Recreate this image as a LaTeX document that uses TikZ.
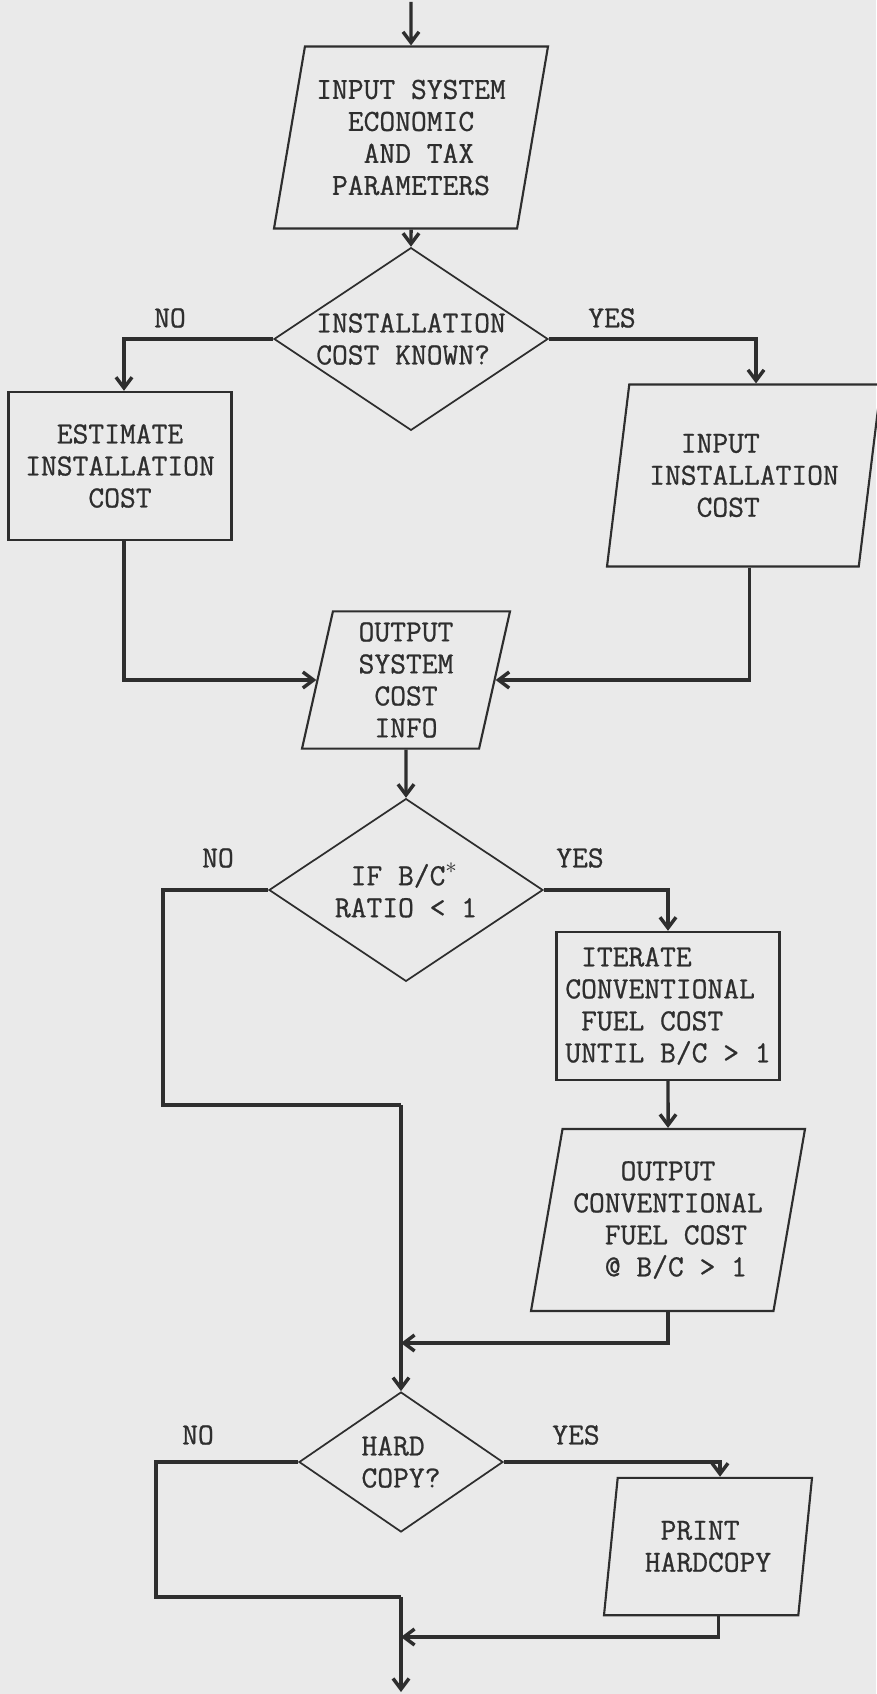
\documentclass[tikz,border=0pt]{standalone}
\usepackage{fontspec}
\setmonofont{Latin Modern Mono}[FakeBold=0.8]
\usepackage{tikz}
\usetikzlibrary{positioning,arrows.meta,shapes.geometric,calc}
\definecolor{paper}{HTML}{EAEAEA}
\definecolor{ink}{HTML}{2E2E2E}

\begin{document}
\begin{tikzpicture}[
    x=0.75pt, y=-0.75pt,
    every node/.style={font=\ttfamily\fontsize{23}{24}\selectfont, text=ink},
    io/.style={trapezium, trapezium left angle=75, trapezium right angle=105,
               trapezium stretches body, draw=ink, line width=1.6pt,
               inner xsep=-12pt, inner ysep=0pt,
               minimum width=205.5pt, minimum height=136.5pt},
    iosmall/.style={io, minimum width=156pt, minimum height=103pt},
    proc/.style={draw=ink, line width=1.8pt, minimum width=167pt, minimum height=111pt},
    dec/.style={diamond, draw=ink, line width=1.3pt, inner sep=0pt, shape aspect=1.5,
                minimum width=205.5pt, minimum height=137pt},
    decsmall/.style={dec, shape aspect=1.46, minimum width=153pt, minimum height=105pt},
    link/.style={draw=ink, line width=2.6pt},
    arr/.style={link, -{Straight Barb[length=8pt, width=12pt]}},
]
  \useasboundingbox (0,0) rectangle (876,1694);
  \fill[paper] (0,0) rectangle (876,1694);

  % Input and first decision
  \coordinate (start) at (411,2);
  \node[io, align=left] (inp) at (411,137.5) {INPUT SYSTEM\\~~ECONOMIC\\~~~AND TAX\\~PARAMETERS};
  \node[dec, align=left] (d1) at (411,339) {INSTALLATION\\COST KNOWN?};
  % Installation cost branches
  \node[proc, align=center] (est) at (120,466) {ESTIMATE\\INSTALLATION\\COST};
  \node[io, align=left] (inst) at (744,475.5) {~~INPUT\\INSTALLATION\\~~~COST};
  \node[iosmall, align=center] (out) at (406,680) {OUTPUT\\SYSTEM\\COST\\INFO};
  % B/C ratio test
  \node[dec, align=left] (d2) at (406,890) {~IF B/C$^{*}$\\RATIO < 1};
  \node[proc, align=left] (iter) at (668,1006) {~ITERATE\\CONVENTIONAL\\~FUEL COST\\UNTIL B/C > 1};
  \node[io, align=left] (conv) at (668,1220) {~~~OUTPUT\\CONVENTIONAL\\~~FUEL COST\\~~@ B/C > 1};
  % Hard copy
  \node[decsmall, align=left] (d3) at (401,1462) {HARD\\COPY?};
  \node[iosmall, align=left] (prt) at (708,1546.5) {~PRINT\\HARDCOPY};

  % Branch labels
  \node (no1)  at (170,318)  {NO};
  \node (yes1) at (612,318)  {YES};
  \node (no2)  at (218,858)  {NO};
  \node (yes2) at (580,858)  {YES};
  \node (no3)  at (198,1435) {NO};
  \node (yes3) at (576,1435) {YES};

  % Bends and merge points
  \coordinate (c1)  at (163,1105);
  \coordinate (m1)  at (401,1105);
  \coordinate (m2)  at (401,1343);
  \coordinate (c3)  at (156,1597);
  \coordinate (m3)  at (401,1597);
  \coordinate (m4)  at (401,1637);
  \coordinate (fin) at (401,1692);

  % Connectors
  \draw[arr] (start) -- (inp.north);
  \draw[arr] (inp.south) -- (d1.north);
  \draw[arr] (d1.west) -| ([xshift=3pt]est.north);
  \draw[arr] (d1.east) -| ([xshift=9pt]inst.north);
  \draw[arr] ([xshift=3pt]est.south) |- (out.west);
  \draw[arr] ([xshift=4pt]inst.south) |- (out.east);
  \draw[arr] (out.south) -- (d2.north);
  \draw[link] (d2.west) -| (c1) -- (m1);
  \draw[arr] (d2.east) -| (iter.north);
  \draw[arr] (iter.south) -- (conv.north);
  \draw[arr] (conv.south) |- (m2);
  \draw[arr] (m1) -- (d3.north);
  \draw[link] (d3.west) -| (c3) -- (m3);
  \draw[arr] (d3.east) -| ([xshift=9pt]prt.north);
  \draw[arr] ([xshift=8pt]prt.south) |- (m4);
  \draw[arr] (m3) -- (fin);
\end{tikzpicture}
\end{document}
